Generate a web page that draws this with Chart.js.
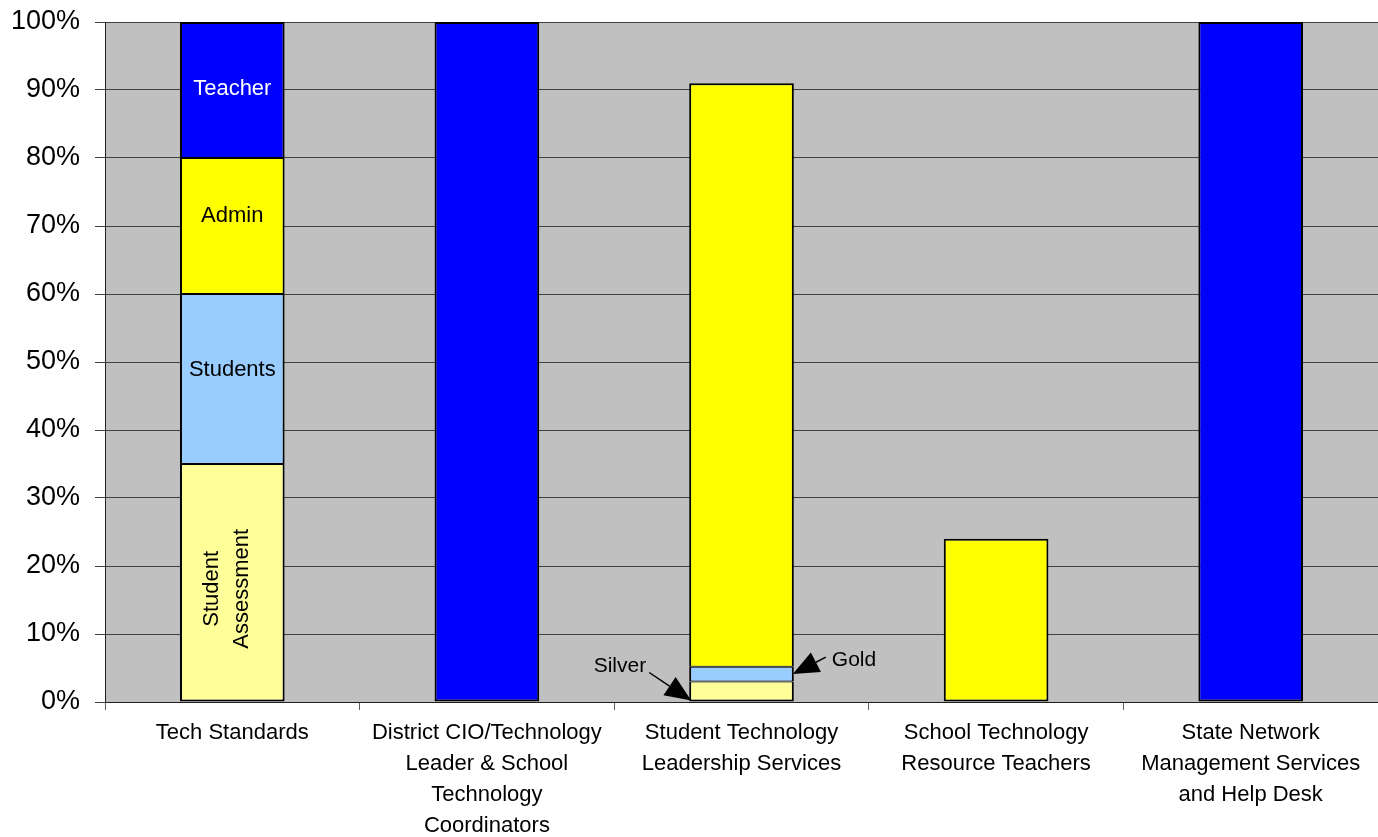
<!DOCTYPE html>
<html><head><meta charset="utf-8">
<script src="https://cdn.jsdelivr.net/npm/chart.js@4/dist/chart.umd.min.js"></script>
<style>html,body{margin:0;padding:0;background:#fff}#wrap{width:1378px;height:837px}</style>
</head><body><div id="wrap"><canvas id="c" width="1378" height="837"></canvas></div>
<script>
const categories = [
  'Tech Standards',
  ['District CIO/Technology', 'Leader & School', 'Technology', 'Coordinators'],
  ['Student Technology', 'Leadership Services'],
  ['School Technology', 'Resource Teachers'],
  ['State Network', 'Management Services', 'and Help Desk']
];
const seriesNames = ['Student Assessment', 'Students', 'Admin', 'Teacher'];
const studentAssessment = [35, null, 3, null, null];
const students = [25, null, 2.2, null, null];
const admin = [20, null, 85.8, 24, null];
const teacher = [20, 100, null, null, 100];
const yTicks = [0, 10, 20, 30, 40, 50, 60, 70, 80, 90, 100];
const segmentLabels = [['Student', 'Assessment'], 'Students', 'Admin', 'Teacher'];
const annotations = ['Silver', 'Gold'];

const FONT = '"Liberation Sans", Arial, sans-serif';
const colors = ['#FFFF99', '#99CCFF', '#FFFF00', '#0000FF'];
const seriesData = [studentAssessment, students, admin, teacher];
const labelShift = [0, -9, -10, -1];

const bgPlugin = {
  id: 'bg',
  beforeDraw(chart) {
    const { ctx, chartArea: a } = chart;
    ctx.save();
    ctx.fillStyle = '#C0C0C0';
    ctx.fillRect(a.left, a.top, a.right - a.left, a.bottom - a.top);
    ctx.restore();
  }
};

function arrow(ctx, x1, y1, x2, y2, len, hw) {
  const ang = Math.atan2(y2 - y1, x2 - x1);
  const bx = x2 - len * Math.cos(ang), by = y2 - len * Math.sin(ang);
  ctx.beginPath();
  ctx.moveTo(x1, y1); ctx.lineTo(bx, by);
  ctx.lineWidth = 1.5; ctx.strokeStyle = '#000'; ctx.stroke();
  ctx.beginPath();
  ctx.moveTo(x2, y2);
  ctx.lineTo(bx + hw * Math.sin(ang), by - hw * Math.cos(ang));
  ctx.lineTo(bx - hw * Math.sin(ang), by + hw * Math.cos(ang));
  ctx.closePath(); ctx.fillStyle = '#000'; ctx.fill();
}

const labelPlugin = {
  id: 'labels',
  afterDatasetsDraw(chart) {
    const ctx = chart.ctx;
    ctx.save();
    ctx.textAlign = 'center';
    ctx.textBaseline = 'middle';
    for (let d = 0; d < 4; d++) {
      const el = chart.getDatasetMeta(d).data[0];
      const cy = (el.y + el.base) / 2;
      ctx.fillStyle = d === 3 ? '#fff' : '#000';
      ctx.font = '22px ' + FONT;
      const lab = segmentLabels[d];
      if (Array.isArray(lab)) {
        ctx.save();
        ctx.translate(el.x - 5, cy + 6);
        ctx.rotate(-Math.PI / 2);
        ctx.fillText(lab[0], 0, -15);
        ctx.fillText(lab[1], 0, 15);
        ctx.restore();
      } else {
        ctx.fillText(lab, el.x, cy + labelShift[d]);
      }
    }
    const silver = chart.getDatasetMeta(0).data[2];
    const gold = chart.getDatasetMeta(1).data[2];
    ctx.font = '21px ' + FONT;
    ctx.fillStyle = '#000';
    const sx = silver.x - silver.width / 2 + 2, sy = silver.base - 1;
    ctx.textAlign = 'right';
    ctx.fillText(annotations[0], sx - 45, sy - 34);
    arrow(ctx, sx - 42, sy - 28, sx, sy, 26, 11);
    const gx = gold.x + gold.width / 2 - 1, gy = (gold.y + gold.base) / 2;
    ctx.textAlign = 'left';
    ctx.fillText(annotations[1], gx + 39, gy - 14);
    arrow(ctx, gx + 33, gy - 17, gx, gy, 26, 11);
    ctx.restore();
  }
};

function isTop(ctx) {
  const i = ctx.dataIndex;
  for (let d = ctx.datasetIndex + 1; d < seriesData.length; d++) {
    if (seriesData[d][i] != null) return false;
  }
  return true;
}

new Chart(document.getElementById('c'), {
  type: 'bar',
  data: {
    labels: categories,
    datasets: seriesNames.map((n, i) => ({
      label: n,
      data: seriesData[i],
      backgroundColor: colors[i],
      borderColor: '#000',
      borderWidth: (c) => ({ left: 2, right: 2, top: isTop(c) ? 2 : 1, bottom: c.datasetIndex === 0 || seriesData.slice(0, c.datasetIndex).every(s => s[c.dataIndex] == null) ? 2 : 1 }),
      borderSkipped: false,
      categoryPercentage: 1,
      barPercentage: 0.411
    }))
  },
  options: {
    responsive: false,
    animation: false,
    layout: { padding: { top: 22, right: 0, left: 0, bottom: 0 } },
    plugins: { legend: { display: false }, tooltip: { enabled: false } },
    scales: {
      x: {
        stacked: true,
        offset: true,
        grid: { offset: true, drawOnChartArea: false, drawTicks: true, tickLength: 8, color: '#606060', lineWidth: 1 },
        border: { color: '#202020', width: 1 },
        ticks: { color: '#000', font: { family: FONT, size: 22, lineHeight: 1.4 }, padding: 8, maxRotation: 0, autoSkip: false },
        afterFit(s) { s.height = 135; s.paddingLeft = 0; s.paddingRight = 0; }
      },
      y: {
        stacked: true,
        min: 0, max: 100,
        afterBuildTicks(s) { s.ticks = yTicks.map(v => ({ value: v })); },
        grid: { color: '#404040', lineWidth: 1, tickLength: 10, drawTicks: true },
        border: { color: '#202020', width: 1 },
        ticks: { color: '#000', font: { family: FONT, size: 27 }, padding: 15, callback: v => v + '%' },
        afterFit(s) { s.width = 105; s.paddingTop = 0; s.paddingBottom = 0; }
      }
    }
  },
  plugins: [bgPlugin, labelPlugin]
});
</script></body></html>
